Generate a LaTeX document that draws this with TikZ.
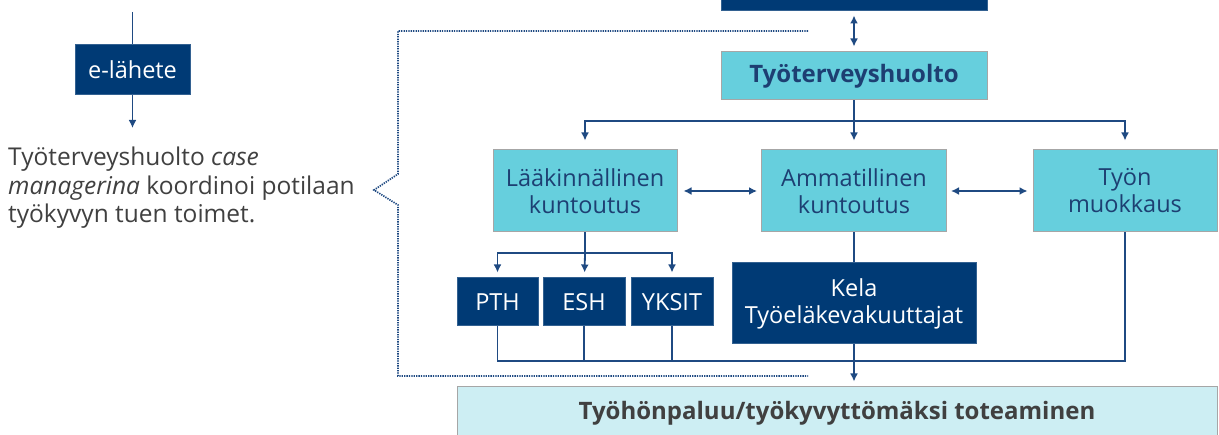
\documentclass[tikz,border=0pt]{standalone}
\usepackage{fontspec}
\setmainfont{Open Sans}
\usepackage{tikz}
\usetikzlibrary{arrows.meta, positioning, calc}
\definecolor{DarkBlue}{HTML}{003A75}
\definecolor{LineBlue}{HTML}{1F4A82}
\definecolor{BoxCyan}{HTML}{66CFDD}
\definecolor{PaleCyan}{HTML}{CDEEF3}
\definecolor{BoxText}{HTML}{1D3F72}
\definecolor{GreyText}{HTML}{404040}
\tikzset{
  >={Latex[length=8,width=8]},
  % laatikot
  box/.style={rectangle,draw=black!35,line width=1,align=center,inner sep=0,font=\fontsize{23.5}{27}\selectfont},
  box dark/.style={box,fill=DarkBlue,draw=DarkBlue!80,text=white},
  box cyan/.style={box,fill=BoxCyan,text=BoxText},
  box pale/.style={box,fill=PaleCyan,text=GreyText},
  % yhteydet
  connect/.style={line width=1.8,LineBlue},
  connect arrow/.style={connect,->,shorten >=1},
  bracket/.style={line width=1.7,LineBlue,dash pattern=on 1.3 off 1.1}
}

\begin{document}
\begin{tikzpicture}[x=1pt,y=-1pt]
  \useasboundingbox (0,0) rectangle (1219,435);
  % vasen puoli
  \coordinate (ylh) at (132.5,12);
  \coordinate (alh) at (132.5,129);
  \node[box dark,minimum width=115,minimum height=50] (elahete) at (132.5,70) {e-lähete};
  \node[anchor=north west,align=left,text=GreyText,inner sep=0,
        font=\fontsize{24.5}{28.5}\selectfont] (teksti) at (8,147)
        {Työterveyshuolto \textit{case}\\ \textit{managerina} koordinoi potilaan\\ työkyvyn tuen toimet.};
  \draw[connect] (ylh) -- (elahete);
  \draw[connect arrow] (elahete) -- (alh);
  % laatikot
  \node[box dark,minimum width=266,minimum height=42] (ylin) at (854,-10) {};
  \node[box cyan,minimum width=266,minimum height=48,font=\fontsize{24}{27}\selectfont\bfseries] (tth) at (854,76) {Työterveyshuolto};
  \node[box cyan,minimum width=184,minimum height=82] (laak) at (585,191) {Lääkinnällinen\\kuntoutus};
  \node[box cyan,minimum width=185,minimum height=82] (amm) at (854,191) {Ammatillinen\\kuntoutus};
  \node[box cyan,minimum width=184,minimum height=82] (tyon) at (1125,191) {Työn\\muokkaus};
  \node[box dark,minimum width=81,minimum height=48] (pth) at (497.5,302) {PTH};
  \node[box dark,minimum width=82,minimum height=48] (esh) at (584,302) {ESH};
  \node[box dark,minimum width=82,minimum height=48] (yksit) at (672,302) {YKSIT};
  \node[box dark,minimum width=244,minimum height=81] (kela) at (854,303.5) {Kela\\Työeläkevakuuttajat};
  \node[box pale,minimum width=760,minimum height=74] (paluu) at (837,424) {};
  \node[text=GreyText,font=\fontsize{24}{27}\selectfont\bfseries] at (837,413) {Työhönpaluu/työkyvyttömäksi toteaminen};
  % yhteydet
  \coordinate (jako) at (854,121);
  \coordinate (ljako) at (585,253);
  \coordinate (kokoa) at (854,361);
  \draw[connect,<->,shorten <=4,shorten >=5] (ylin) -- (tth);
  \draw[connect] (tth) -- (jako);
  \draw[connect arrow,shorten >=9] (jako) -- (amm);
  \draw[connect arrow,shorten >=9] (jako) -| (laak);
  \draw[connect arrow,shorten >=9] (jako) -| (tyon);
  \draw[connect,<->,shorten <=6,shorten >=4] (laak) -- (amm);
  \draw[connect,<->,shorten <=4,shorten >=5] (amm) -- (tyon);
  \draw[connect] (laak) -- (ljako);
  \draw[connect arrow,shorten >=5] (ljako) -| (pth);
  \draw[connect arrow,shorten >=5] (ljako) -- (esh);
  \draw[connect arrow,shorten >=5] (ljako) -| (yksit);
  \draw[connect] (pth) |- (kokoa);
  \draw[connect] (esh) -- (esh |- kokoa);
  \draw[connect] (yksit) -- (yksit |- kokoa);
  \draw[connect] (tyon) |- (kokoa);
  \draw[connect] (amm) -- (kela);
  \draw[connect arrow,shorten >=5] (kela) -- (kela |- paluu.north);
  % katkoviivasulje
  \draw[bracket] (808,31) -- (398,31) -- (398,174) -- (374,190) -- (398,205) -- (398,376) -- (808,376);
\end{tikzpicture}
\end{document}
